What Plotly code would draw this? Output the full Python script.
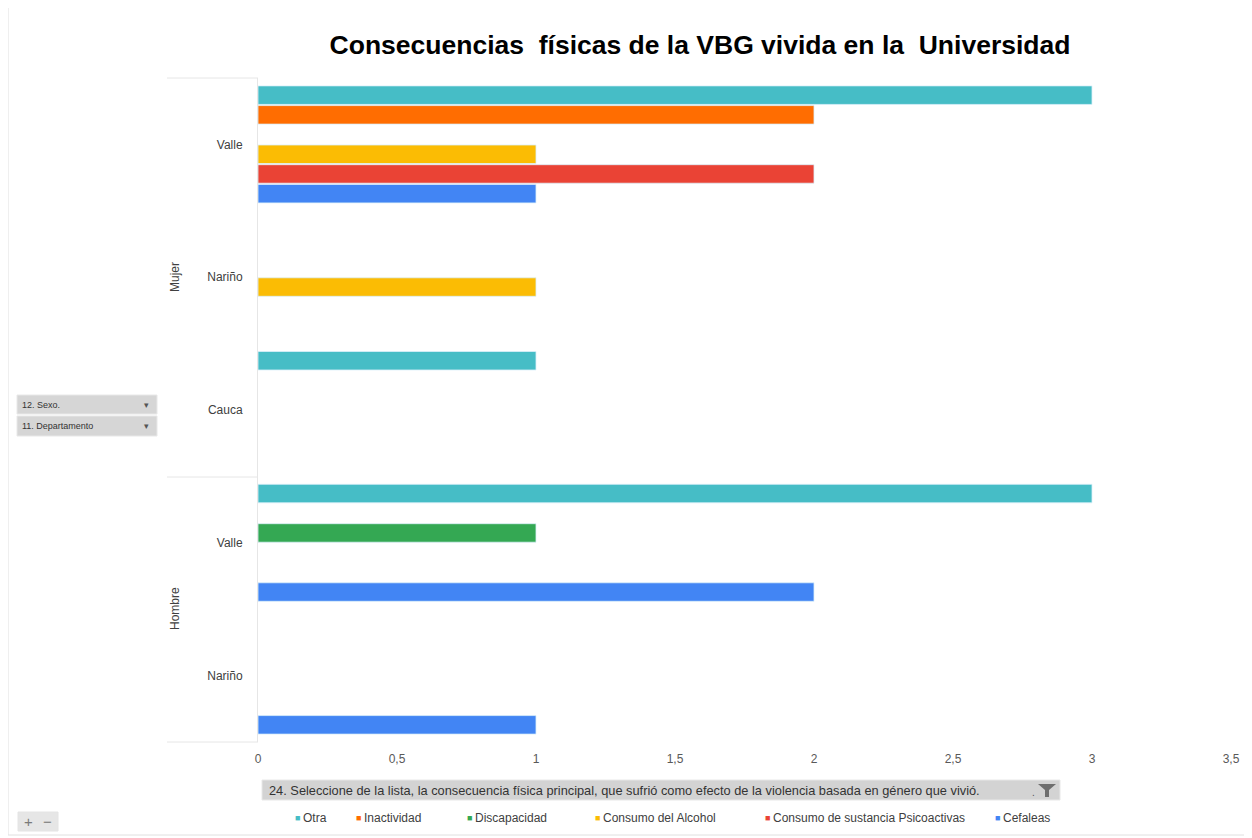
import plotly.graph_objects as go

# categories, bottom to top
sexos = ["Hombre", "Hombre", "Mujer", "Mujer", "Mujer"]
deptos = ["Nariño", "Valle", "Cauca", "Nariño", "Valle"]

# series (bottom slot first inside each category)
series_names = ["Cefaleas", "Consumo de sustancia Psicoactivas", "Consumo del Alcohol",
                "Discapacidad", "Inactividad", "Otra"]
cefaleas = [1, 2, None, None, 1]
psicoactivas = [None, None, None, None, 2]
alcohol = [None, None, None, 1, 1]
discapacidad = [None, 1, None, None, None]
inactividad = [None, None, None, None, 2]
otra = [None, 3, 1, None, 3]

colors = ["#4285F4", "#EA4335", "#FBBC04", "#34A853", "#FF6D01", "#46BDC6"]
x_ticks = [0, 0.5, 1, 1.5, 2, 2.5, 3, 3.5]

# page body adds an 8px margin, so the figure is drawn 8px smaller and shifted
OFF = 8
W, H = 1252 - OFF, 838 - OFF
L, T = 258 - OFF, 78 - OFF
R = W - (1231 - OFF)
B = H - (742 - OFF)
PW, PH = W - L - R, H - T - B


def px(x):
    # reference-screen x -> paper
    return (x - OFF - L) / PW


def py(y):
    # reference-screen y -> paper
    return (H - B - (y - OFF)) / PH


cat_keys = [s + " - " + d for s, d in zip(sexos, deptos)]
values = [cefaleas, psicoactivas, alcohol, discapacidad, inactividad, otra]

fig = go.Figure()
for name, vals, col in zip(series_names, values, colors):
    fig.add_trace(go.Bar(
        y=cat_keys, x=vals, name=name, orientation="h",
        marker=dict(color=col, line=dict(color="rgba(220,240,250,0.8)", width=1)),
    ))

font_main = "Liberation Sans, Arial, sans-serif"

shapes = []
annotations = []

# group divider lines on the left
for yy in [78, 477, 742]:
    shapes.append(dict(type="line", xref="paper", yref="paper",
                       x0=px(167), x1=px(258), y0=py(yy), y1=py(yy),
                       line=dict(color="#e6e6e6", width=1)))

annotations.append(dict(text="Mujer", xref="paper", yref="paper", x=px(175), y=py(277),
                        xanchor="center", yanchor="middle", textangle=-90, showarrow=False,
                        font=dict(family=font_main, size=12, color="#404040")))
annotations.append(dict(text="Hombre", xref="paper", yref="paper", x=px(175), y=py(609),
                        xanchor="center", yanchor="middle", textangle=-90, showarrow=False,
                        font=dict(family=font_main, size=12, color="#404040")))

# outer border
shapes.append(dict(type="rect", xref="paper", yref="paper",
                   x0=px(8), x1=px(1246), y0=py(835), y1=py(5),
                   line=dict(color="#e0e0e0", width=1), fillcolor="rgba(0,0,0,0)"))

# left field buttons
for (y0, y1, label) in [(395, 414, "12. Sexo."), (416, 436, "11. Departamento")]:
    shapes.append(dict(type="rect", xref="paper", yref="paper",
                       x0=px(17), x1=px(157), y0=py(y1), y1=py(y0),
                       line=dict(color="#e8e8e8", width=1), fillcolor="#d6d6d6"))
    annotations.append(dict(text=label, xref="paper", yref="paper", x=px(20), y=py((y0 + y1) / 2),
                            xanchor="left", yanchor="middle", showarrow=False,
                            font=dict(family=font_main, size=9, color="#333333")))
    annotations.append(dict(text="▾", xref="paper", yref="paper", x=px(146), y=py((y0 + y1) / 2),
                            xanchor="center", yanchor="middle", showarrow=False,
                            font=dict(family=font_main, size=9, color="#555555")))

# bottom field button
shapes.append(dict(type="rect", xref="paper", yref="paper",
                   x0=px(262), x1=px(1060), y0=py(800), y1=py(780),
                   line=dict(color="#e8e8e8", width=1), fillcolor="#d3d3d3"))
annotations.append(dict(
    text="24. Seleccione de la lista, la consecuencia física principal, que sufrió como efecto de la violencia basada en género que vivió.",
    xref="paper", yref="paper", x=px(267), y=py(790), xanchor="left", yanchor="middle", showarrow=False,
    font=dict(family=font_main, size=12.8, color="#333333")))
# funnel icon
shapes.append(dict(type="path", xref="paper", yref="paper",
                   path=f"M {px(1038)},{py(784)} L {px(1056)},{py(784)} L {px(1049)},{py(790)} "
                        f"L {px(1049)},{py(797)} L {px(1045)},{py(797)} L {px(1045)},{py(790)} Z",
                   fillcolor="#6e6e6e", line=dict(width=0)))
annotations.append(dict(text=".", xref="paper", yref="paper", x=px(1033), y=py(792),
                        xanchor="center", yanchor="middle", showarrow=False,
                        font=dict(family=font_main, size=10, color="#555555")))

# zoom buttons
shapes.append(dict(type="rect", xref="paper", yref="paper",
                   x0=px(18), x1=px(58), y0=py(831), y1=py(812),
                   line=dict(color="#e4e4e4", width=1), fillcolor="#e6e6e6"))
annotations.append(dict(text="+", xref="paper", yref="paper", x=px(28), y=py(821),
                        xanchor="center", yanchor="middle", showarrow=False,
                        font=dict(family=font_main, size=15, color="#7a7a7a")))
annotations.append(dict(text="−", xref="paper", yref="paper", x=px(47), y=py(821),
                        xanchor="center", yanchor="middle", showarrow=False,
                        font=dict(family=font_main, size=15, color="#7a7a7a")))

# legend (Excel style: small squares, tight spacing), in reading order
legend_x = [297, 358, 469, 597, 767, 997]
for name, col, lx in zip(reversed(series_names), reversed(colors), legend_x):
    annotations.append(dict(text="■", xref="paper", yref="paper", x=px(lx), y=py(818),
                            xanchor="center", yanchor="middle", showarrow=False,
                            font=dict(family=font_main, size=9, color=col)))
    annotations.append(dict(text=name, xref="paper", yref="paper", x=px(lx + 4), y=py(818),
                            xanchor="left", yanchor="middle", showarrow=False,
                            font=dict(family=font_main, size=12, color="#404040")))

fig.update_layout(
    width=W, height=H,
    margin=dict(l=L, r=R, t=T, b=B),
    paper_bgcolor="white", plot_bgcolor="white",
    separators=",.",
    barmode="group", bargap=0.11, bargroupgap=0.06,
    title=dict(text="<b>Consecuencias  físicas de la VBG vivida en la  Universidad</b>",
               x=(700 - OFF) / W, xanchor="center", y=1 - (45 - OFF) / H, yanchor="middle",
               font=dict(family=font_main, size=26.5, color="#000000")),
    xaxis=dict(range=[0, 3.5], tickvals=x_ticks, showgrid=False, zeroline=False,
               showline=False, tickfont=dict(family=font_main, size=12, color="#595959"),
               ticklabelstandoff=8),
    yaxis=dict(type="category", categoryorder="array", categoryarray=cat_keys,
               tickvals=cat_keys, ticktext=deptos, showgrid=False, zeroline=False,
               showline=True, linecolor="#e6e6e6", linewidth=1,
               tickfont=dict(family=font_main, size=12, color="#404040"),
               ticklabelstandoff=12),
    showlegend=False,
    shapes=shapes, annotations=annotations,
)

fig.write_html("out.html")
